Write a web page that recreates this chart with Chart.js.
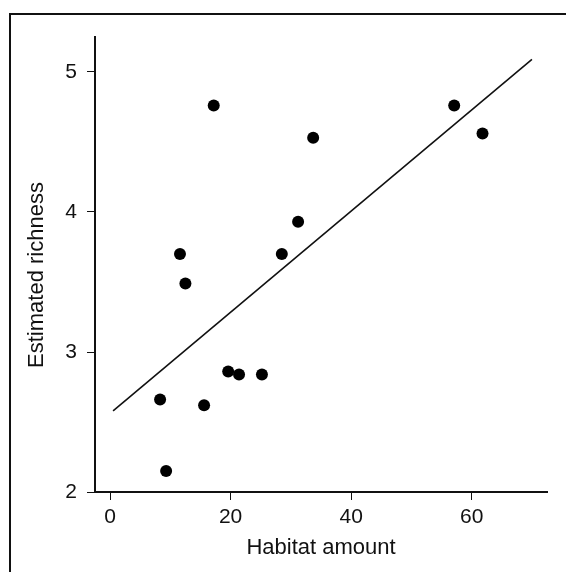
<!DOCTYPE html>
<html>
<head>
<meta charset="utf-8">
<script src="https://cdn.jsdelivr.net/npm/chart.js@4.4.1/dist/chart.umd.min.js"></script>
<style>
  html, body { margin: 0; padding: 0; background: #fff; overflow: hidden; }
  #wrap { position: relative; width: 566px; height: 572px; }
  #frame { position: absolute; left: 9px; top: 13px; width: 700px; height: 700px;
           border-left: 2px solid #111; border-top: 2px solid #111; }
  canvas { position: absolute; left: 0; top: 0; }
</style>
</head>
<body>
<div id="wrap">
  <div id="frame"></div>
  <canvas id="chart" width="566" height="572"></canvas>
</div>
<script>
const FONT = "'Liberation Sans', Arial, sans-serif";

// observed points
const habitat = [8.3, 9.3, 11.6, 12.5, 15.6, 17.2, 19.6, 21.4, 25.2, 28.5, 31.2, 33.7, 57.1, 61.8];
const richness = [2.66, 2.15, 3.70, 3.49, 2.62, 4.76, 2.86, 2.84, 2.84, 3.70, 3.93, 4.53, 4.76, 4.56];

// fitted line end points
const fitX = [0.5, 70];
const fitY = [2.58, 5.09];

const xTicks = [0, 20, 40, 60];
const yTicks = [2, 3, 4, 5];
const xTitle = "Habitat amount";
const yTitle = "Estimated richness";

// y title drawn by hand so it sits where the original has it
const yTitlePlugin = {
  id: "yTitle",
  afterDraw(chart) {
    const ctx = chart.ctx;
    ctx.save();
    ctx.translate(37, 275);
    ctx.rotate(-Math.PI / 2);
    ctx.font = "22px " + FONT;
    ctx.fillStyle = "#111";
    ctx.textAlign = "center";
    ctx.textBaseline = "middle";
    ctx.fillText(yTitle, 0, 0);
    ctx.restore();
  }
};

const axisGrid = { drawOnChartArea: false, drawTicks: true, tickLength: 8, color: "#111", lineWidth: 1 };
const axisBorder = { display: true, color: "#111", width: 2 };

new Chart(document.getElementById("chart"), {
  type: "scatter",
  data: {
    datasets: [
      {
        data: habitat.map((x, i) => ({ x: x, y: richness[i] })),
        backgroundColor: "#000",
        borderWidth: 0,
        pointRadius: 6,
        pointHoverRadius: 6
      },
      {
        type: "line",
        data: fitX.map((x, i) => ({ x: x, y: fitY[i] })),
        borderColor: "#111",
        borderWidth: 1.6,
        pointRadius: 0,
        fill: false
      }
    ]
  },
  options: {
    responsive: false,
    animation: false,
    devicePixelRatio: 1,
    layout: { padding: { top: 37, right: 19, left: 0, bottom: 0 } },
    plugins: { legend: { display: false }, tooltip: { enabled: false } },
    scales: {
      x: {
        type: "linear",
        min: -2.5,
        max: 72.5,
        afterBuildTicks: s => { s.ticks = xTicks.map(v => ({ value: v })); },
        afterFit: s => { s.height = 80; },
        grid: axisGrid,
        border: axisBorder,
        ticks: { color: "#111", font: { family: FONT, size: 21 }, padding: 5, maxRotation: 0, autoSkip: false },
        title: { display: true, text: xTitle, color: "#111", font: { family: FONT, size: 22 }, padding: { bottom: 11 } }
      },
      y: {
        type: "linear",
        min: 2,
        max: 5.25,
        afterBuildTicks: s => { s.ticks = yTicks.map(v => ({ value: v })); },
        afterFit: s => { s.width = 95; },
        grid: axisGrid,
        border: axisBorder,
        ticks: { color: "#111", font: { family: FONT, size: 21 }, padding: 10, autoSkip: false }
      }
    }
  },
  plugins: [yTitlePlugin]
});
</script>
</body>
</html>
